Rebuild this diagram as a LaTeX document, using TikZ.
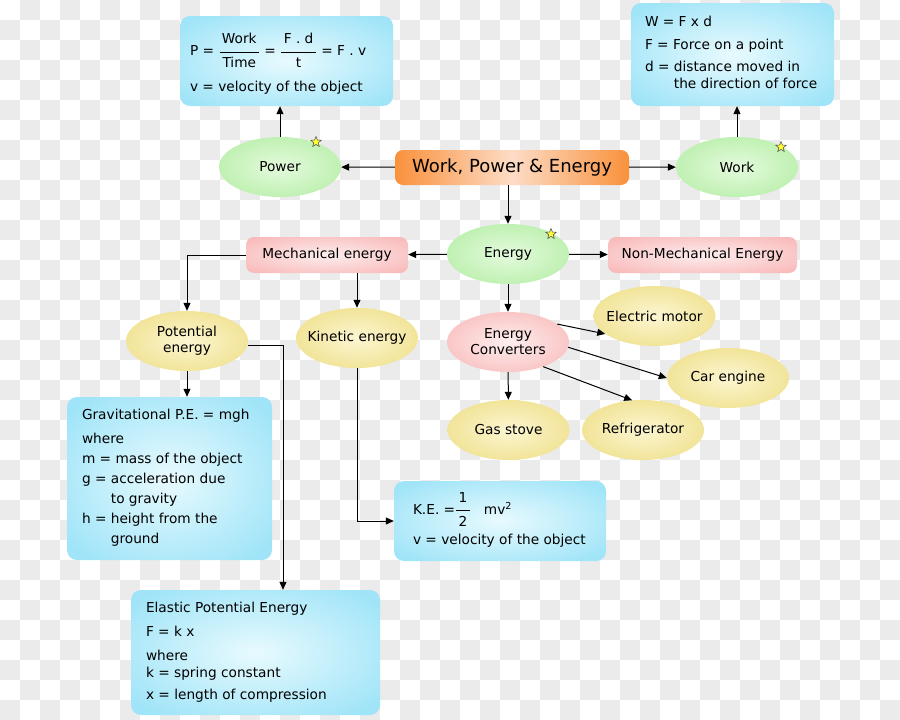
\documentclass[tikz,border=0pt]{standalone}
\usepackage{amsmath}
\usepackage{fontspec}
\setmainfont{DejaVu Sans}
\usetikzlibrary{shapes.geometric,arrows.meta}

\definecolor{checker}{HTML}{EBEBEB}
\definecolor{boxblue}{HTML}{9FE4F8}
\definecolor{boxcore}{HTML}{E8FAFE}
\definecolor{leafgreen}{HTML}{B0ECA0}
\definecolor{leafcore}{HTML}{E4FBDD}
\definecolor{sandy}{HTML}{EDDC80}
\definecolor{sandcore}{HTML}{FCF6D2}
\definecolor{rosy}{HTML}{F9B8B8}
\definecolor{rosecore}{HTML}{FDEEEE}
\definecolor{tangerine}{HTML}{F9913C}
\definecolor{peach}{HTML}{FDDCC6}
\definecolor{staryellow}{HTML}{FFFF33}

\pgfdeclareradialshading{blueglow}{\pgfpoint{0bp}{0bp}}{color(0bp)=(boxcore); color(32bp)=(boxblue); color(50bp)=(boxblue)}
\pgfdeclareradialshading{greenglow}{\pgfpoint{0bp}{0bp}}{color(0bp)=(leafcore); color(36bp)=(leafgreen); color(50bp)=(leafgreen)}
\pgfdeclareradialshading{sandglow}{\pgfpoint{0bp}{0bp}}{color(0bp)=(sandcore); color(36bp)=(sandy); color(50bp)=(sandy)}
\pgfdeclareradialshading{roseglow}{\pgfpoint{0bp}{0bp}}{color(0bp)=(rosecore); color(34bp)=(rosy); color(50bp)=(rosy)}

% stacked fraction in text font
\newcommand{\frc}[2]{\ensuremath{\genfrac{}{}{0.8pt}{0}{\raisebox{2pt}{\text{\,#1\,}}}{\rule{0pt}{13pt}\text{\,#2\,}}}}
% left aligned lines that never wrap
\newcommand{\boxlines}[2]{\makebox[#1][l]{\begin{tabular}{@{}l@{}}#2\end{tabular}}}

\tikzstyle{infobox}=[rectangle,rounded corners=10pt,shading=blueglow,inner ysep=0pt]
\tikzstyle{topic}=[ellipse,minimum width=122pt,minimum height=60pt,inner xsep=-8pt,inner ysep=0pt,align=center,shading=greenglow]
\tikzstyle{example}=[topic,shading=sandglow]
\tikzstyle{kind}=[rectangle,rounded corners=8pt,minimum height=36pt,shading=roseglow]
\tikzstyle{starmark}=[star,star points=5,star point ratio=2.3,minimum size=11pt,inner sep=0pt,fill=staryellow,draw=black!65,line width=0.6pt]
\tikzstyle{link}=[-{Triangle[length=8pt,width=7pt]},line width=1pt]

\begin{document}
\begin{tikzpicture}[x=1pt,y=-1pt,font=\fontsize{13.7}{17}\selectfont]
\useasboundingbox (0,0) rectangle (900,720);
% checkered backdrop
\foreach \j in {0,...,35}{
  \pgfmathtruncatemacro{\s}{mod(\j+1,2)}
  \foreach \i in {0,2,...,44}
    \fill[checker] (20*\i+20*\s,20*\j) rectangle +(20,20);
}
% top row
\node[rectangle,rounded corners=8pt,minimum width=234pt,minimum height=35pt,
      left color=tangerine,right color=tangerine,middle color=peach,
      font=\fontsize{18}{21}\selectfont] (title) at (512,167.5) {Work, Power \& Energy};
\node[topic] (power) at (280,167) {Power};
\node[topic] (work) at (737,167) {Work};
\node[starmark] (powerstar) at (316,142) {};
\node[starmark] (workstar) at (781,147) {};
% formula boxes
\node[infobox,inner xsep=10pt,minimum width=213pt,minimum height=90pt] (powerbox) at (286.5,61)
  {\boxlines{193pt}{\noalign{\vskip 8pt}P =~\frc{Work}{Time}~=~\frc{F . d}{t}~= F . v\\[19pt]
   v = velocity of the object}};
\node[infobox,inner xsep=14pt,minimum width=203pt,minimum height=103pt] (workbox) at (732.5,54.5)
  {\boxlines{175pt}{W = F x d\\[6pt]
   F = Force on a point\\[5pt]
   d = distance moved in\\
   \phantom{d = }the direction of force}};
% energy row
\node[topic] (energy) at (508,254) {Energy};
\node[starmark] (energystar) at (551,234) {};
\node[kind,minimum width=162pt] (mech) at (327,255) {Mechanical energy};
\node[kind,minimum width=189pt] (nonmech) at (702.5,255) {Non-Mechanical Energy};
% mechanical branch
\node[example] (potential) at (187,341) {Potential\\[-1pt]energy};
\node[example] (kinetic) at (357,338) {Kinetic energy};
\node[infobox,inner xsep=15pt,minimum width=205pt,minimum height=163pt] (gravbox) at (169.5,478.5)
  {\boxlines{175pt}{Gravitational P.E. = mgh\\[7pt]
   where\\[3pt]
   m = mass of the object\\[3pt]
   g = acceleration due\\[3pt]
   \phantom{g = }to gravity\\[3pt]
   h = height from the\\[3pt]
   \phantom{h = }ground}};
\node[infobox,inner xsep=19pt,minimum width=212pt,minimum height=80pt] (kebox) at (500,521)
  {\boxlines{174pt}{K.E. =\frc{1}{2}~~~mv\textsuperscript{2}\\[13pt]
   v = velocity of the object}};
\node[infobox,inner xsep=15pt,minimum width=249pt,minimum height=125pt] (elastic) at (255.5,652.5)
  {\boxlines{219pt}{Elastic Potential Energy\\[7pt]
   F = k x\\[7pt]
   where\\
   k = spring constant\\[5pt]
   x = length of compression}};
% converters
\node[topic,shading=roseglow] (converters) at (508,342) {Energy\\[-1pt]Converters};
\node[example] (motor) at (654.5,316) {Electric motor};
\node[example] (carengine) at (728,378) {Car engine};
\node[example] (gasstove) at (508.5,430) {Gas stove};
\node[example] (fridge) at (643,430) {Refrigerator};
% connectors
\draw[link] (title) -- (power);
\draw[link] (title) -- (work);
\draw[link] (power.north) -- (power.north |- powerbox.south);
\draw[link] (work.north) -- (work.north |- workbox.south);
\draw[link] (energy.north |- title.south) -- (energy.north);
\draw[link] (energy) -- (mech);
\draw[link] (energy) -- (nonmech);
\draw[link] (mech.west) -| (potential.north);
\draw[link] (kinetic.north |- mech.south) -- (kinetic.north);
\draw[link] (potential.south) -- (potential.south |- gravbox.north);
\draw[link] ([yshift=-4pt]potential.east) -| ([xshift=27.5pt]elastic.north);
\draw[link] (kinetic.south) |- (kebox.west);
\draw[link] (energy) -- (converters);
\draw[link] (converters.20) -- (motor.200);
\draw[link] (converters.-5) -- (carengine.west);
\draw[link] (converters.-35) -- (fridge.110);
\draw[link] (converters) -- (gasstove);
\end{tikzpicture}
\end{document}
